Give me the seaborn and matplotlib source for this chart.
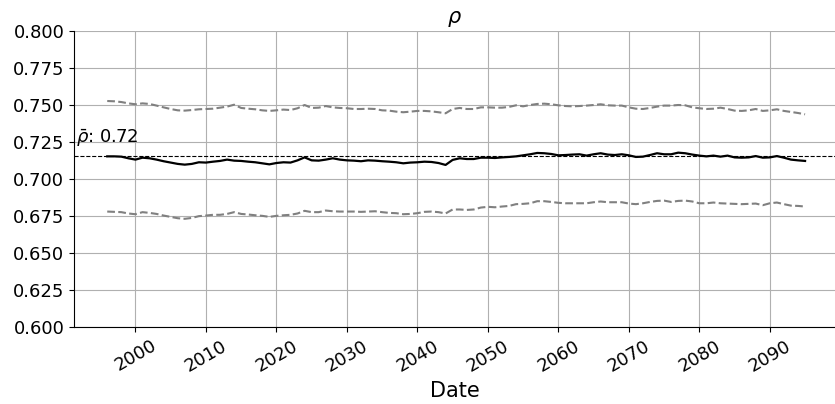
import matplotlib
matplotlib.use("Agg")
import matplotlib.pyplot as plt
import matplotlib.transforms as mtransforms
import matplotlib.dates as mdates
import seaborn as sns
import pandas as pd
import numpy as np

years = list(range(1996, 2096))

rho_mid = [
    0.7153, 0.7153, 0.7151, 0.7140, 0.7131, 0.7144, 0.7140, 0.7131, 0.7120, 0.7111,
    0.7102, 0.7097, 0.7102, 0.7113, 0.7111, 0.7117, 0.7122, 0.7131, 0.7124, 0.7122,
    0.7117, 0.7113, 0.7106, 0.7099, 0.7108, 0.7113, 0.7111, 0.7126, 0.7146, 0.7126,
    0.7124, 0.7131, 0.7140, 0.7131, 0.7126, 0.7124, 0.7120, 0.7126, 0.7124, 0.7120,
    0.7117, 0.7113, 0.7106, 0.7111, 0.7113, 0.7117, 0.7115, 0.7108, 0.7095, 0.7129,
    0.7140, 0.7135, 0.7135, 0.7144, 0.7144, 0.7142, 0.7146, 0.7149, 0.7153, 0.7160,
    0.7167, 0.7176, 0.7174, 0.7169, 0.7160, 0.7162, 0.7165, 0.7167, 0.7158, 0.7167,
    0.7174, 0.7165, 0.7162, 0.7167, 0.7160, 0.7149, 0.7151, 0.7162, 0.7174, 0.7167,
    0.7167, 0.7178, 0.7174, 0.7165, 0.7158, 0.7153, 0.7158, 0.7151, 0.7158, 0.7146,
    0.7144, 0.7146, 0.7155, 0.7144, 0.7146, 0.7155, 0.7144, 0.7131, 0.7126, 0.7122,
]

rho_upper = [
    0.7527, 0.7525, 0.7520, 0.7511, 0.7505, 0.7511, 0.7507, 0.7496, 0.7484, 0.7473,
    0.7464, 0.7462, 0.7466, 0.7471, 0.7473, 0.7475, 0.7482, 0.7489, 0.7502, 0.7480,
    0.7475, 0.7471, 0.7464, 0.7460, 0.7464, 0.7469, 0.7466, 0.7478, 0.7500, 0.7480,
    0.7482, 0.7493, 0.7484, 0.7480, 0.7478, 0.7473, 0.7473, 0.7475, 0.7473, 0.7464,
    0.7462, 0.7455, 0.7451, 0.7455, 0.7460, 0.7460, 0.7457, 0.7451, 0.7444, 0.7473,
    0.7480, 0.7473, 0.7473, 0.7484, 0.7484, 0.7482, 0.7482, 0.7487, 0.7498, 0.7491,
    0.7500, 0.7507, 0.7509, 0.7505, 0.7498, 0.7493, 0.7491, 0.7493, 0.7496, 0.7500,
    0.7505, 0.7498, 0.7496, 0.7496, 0.7484, 0.7475, 0.7473, 0.7480, 0.7489, 0.7496,
    0.7496, 0.7500, 0.7498, 0.7484, 0.7478, 0.7473, 0.7475, 0.7482, 0.7473, 0.7462,
    0.7460, 0.7464, 0.7473, 0.7460, 0.7464, 0.7471, 0.7460, 0.7453, 0.7446, 0.7437,
]

rho_lower = [
    0.6780, 0.6778, 0.6776, 0.6767, 0.6762, 0.6776, 0.6771, 0.6764, 0.6753, 0.6744,
    0.6735, 0.6731, 0.6737, 0.6749, 0.6753, 0.6758, 0.6758, 0.6764, 0.6776, 0.6764,
    0.6760, 0.6755, 0.6751, 0.6744, 0.6751, 0.6755, 0.6758, 0.6767, 0.6785, 0.6776,
    0.6776, 0.6787, 0.6782, 0.6780, 0.6780, 0.6780, 0.6778, 0.6780, 0.6782, 0.6776,
    0.6771, 0.6769, 0.6762, 0.6764, 0.6769, 0.6778, 0.6780, 0.6776, 0.6767, 0.6794,
    0.6794, 0.6791, 0.6794, 0.6807, 0.6812, 0.6809, 0.6814, 0.6818, 0.6830, 0.6832,
    0.6836, 0.6850, 0.6850, 0.6845, 0.6839, 0.6836, 0.6836, 0.6836, 0.6836, 0.6843,
    0.6848, 0.6843, 0.6843, 0.6843, 0.6834, 0.6830, 0.6836, 0.6845, 0.6852, 0.6854,
    0.6845, 0.6852, 0.6854, 0.6848, 0.6836, 0.6836, 0.6841, 0.6836, 0.6834, 0.6832,
    0.6830, 0.6832, 0.6834, 0.6823, 0.6836, 0.6841, 0.6830, 0.6820, 0.6818, 0.6814,
]

rho_mean = 0.7155
mean_label = r"$\bar{\rho}$: 0.72"
title = r"$\rho$"
xlabel = "Date"
ytick_vals = [0.600, 0.625, 0.650, 0.675, 0.700, 0.725, 0.750, 0.775, 0.800]

dates = pd.to_datetime([f"{y}-01-01" for y in years])
df = pd.DataFrame({"Date": dates, "mid": rho_mid, "upper": rho_upper, "lower": rho_lower})

fig = plt.figure(figsize=(8.35, 4.04), dpi=100)
ax = fig.add_axes([74 / 835, 77 / 404, (835 - 74) / 835, 296 / 404])

sns.lineplot(data=df, x="Date", y="upper", ax=ax, color="gray", linestyle="--", linewidth=1.5)
sns.lineplot(data=df, x="Date", y="lower", ax=ax, color="gray", linestyle="--", linewidth=1.5)
sns.lineplot(data=df, x="Date", y="mid", ax=ax, color="black", linewidth=1.6)
ax.axhline(rho_mean, color="black", linestyle="--", linewidth=0.8)

trans = mtransforms.blended_transform_factory(ax.transAxes, ax.transData)
ax.text(0.002, rho_mean + 0.0088, mean_label, transform=trans, fontsize=13,
        va="baseline", ha="left")

ax.set_xlim(pd.Timestamp("1991-04-15"), pd.Timestamp("2099-04-01"))
ax.xaxis.set_major_locator(mdates.YearLocator(10))
ax.xaxis.set_major_formatter(mdates.DateFormatter("%Y"))
ax.set_ylim(0.6, 0.8)
ax.set_yticks(ytick_vals)
ax.set_yticklabels([f"{v:.3f}" for v in ytick_vals])
ax.grid(True, color="#b0b0b0", linewidth=0.8)
ax.set_axisbelow(True)
ax.tick_params(axis="both", labelsize=13)
plt.setp(ax.get_xticklabels(), rotation=30)
ax.set_title(title, fontsize=15)
ax.set_xlabel(xlabel, fontsize=15)
ax.set_ylabel("")
sns.despine(ax=ax)

fig.savefig("out.png", dpi=100)
